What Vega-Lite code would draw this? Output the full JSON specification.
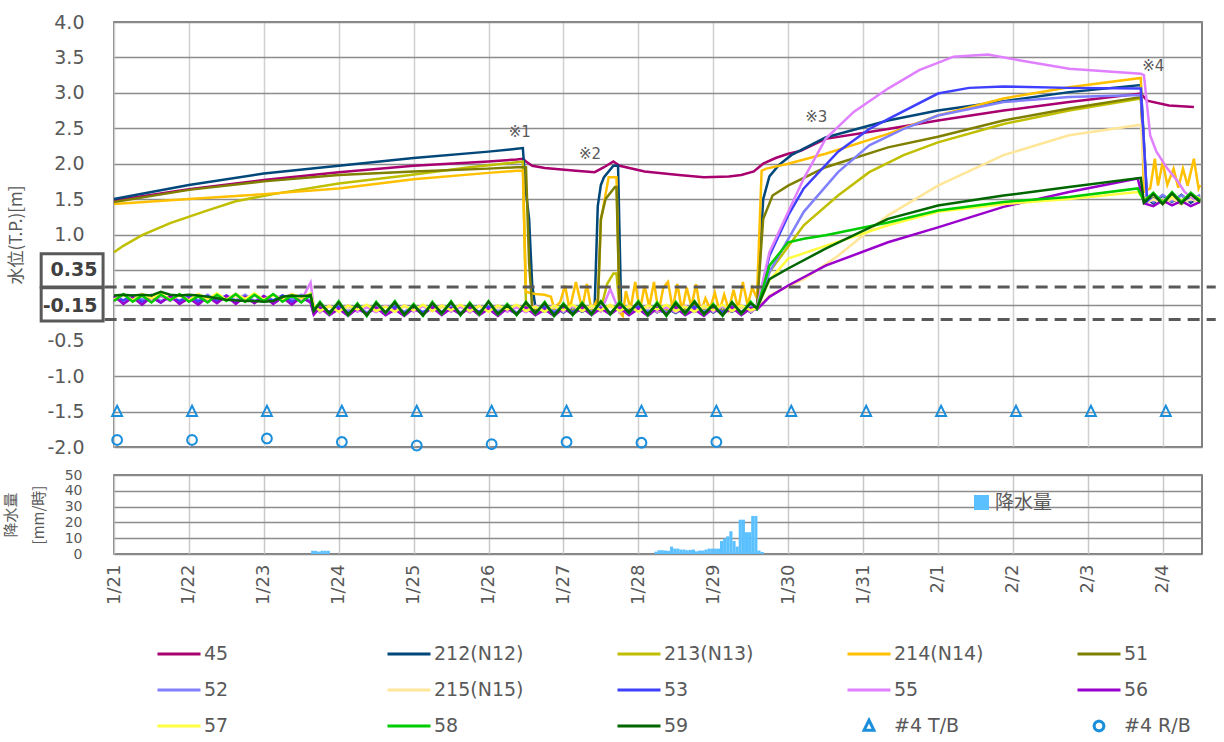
{
"$schema":"https://vega.github.io/schema/vega-lite/v6.json",
"background":"white",
"padding":{"left":2,"top":12,"right":2,"bottom":0},
"bounds":"flush",
"spacing":28,
"config":{"font":"DejaVu Sans","view":{"stroke":"#595959","strokeWidth":1.5},"axis":{"labelColor":"#595959","titleColor":"#595959","labelFont":"DejaVu Sans","labelOverlap":false,"labelSeparation":0}},
"resolve":{"scale":{"color":"independent","shape":"independent"},"legend":{"color":"independent","shape":"independent"}},
"datasets":{
"nm":[{"k":"a","n":"45"},{"k":"b","n":"212(N12)"},{"k":"c","n":"213(N13)"},{"k":"d","n":"214(N14)"},{"k":"e","n":"51"},{"k":"f","n":"52"},{"k":"g","n":"215(N15)"},{"k":"h","n":"53"},{"k":"i","n":"55"},{"k":"j","n":"56"},{"k":"k","n":"57"},{"k":"l","n":"58"},{"k":"m","n":"59"}],
"lv":[
{"t":"2021-01-21 00:00","a":1.48,"b":1.5,"c":0.75,"d":1.43,"e":1.46,"f":0.13,"g":0.09,"h":0.13,"i":0.06,"j":0.13,"k":0.08,"l":0.06,"m":0.14},
{"t":"2021-01-21 03:00","c":0.84,"f":0.05,"g":0.15,"h":0.07,"i":0.15,"j":0.02,"k":0.15,"l":0.16,"m":0.15},
{"t":"2021-01-21 06:00","f":0.14,"g":0.08,"h":0.14,"i":0.09,"j":0.11,"k":0.07,"l":0.05,"m":0.14},
{"t":"2021-01-21 09:00","c":0.99,"f":0.08,"g":0.13,"h":0.05,"i":0.16,"j":0.01,"k":0.16,"l":0.14,"m":0.15},
{"t":"2021-01-21 12:00","f":0.15,"g":0.07,"h":0.11,"i":0.07,"j":0.12,"k":0.1,"l":0.04,"m":0.14},
{"t":"2021-01-21 15:00","f":0.06,"g":0.14,"h":0.04,"i":0.13,"j":0.04,"k":0.17,"l":0.15,"m":0.19},
{"t":"2021-01-21 18:00","c":1.16,"f":0.12,"g":0.09,"h":0.13,"i":0.06,"j":0.13,"k":0.08,"l":0.07,"m":0.15},
{"t":"2021-01-21 21:00","f":0.05,"g":0.15,"h":0.06,"i":0.15,"j":0.02,"k":0.14,"l":0.16,"m":0.14},
{"t":"2021-01-22 00:00","a":1.64,"b":1.7,"d":1.5,"e":1.63,"f":0.14,"g":0.08,"h":0.14,"i":0.08,"j":0.1,"k":0.07,"l":0.05,"m":0.15},
{"t":"2021-01-22 03:00","f":0.07,"g":0.14,"h":0.05,"i":0.16,"j":0.01,"k":0.16,"l":0.13,"m":0.14},
{"t":"2021-01-22 06:00","c":1.34,"f":0.15,"g":0.09,"h":0.13,"i":0.07,"j":0.12,"k":0.09,"l":0.04,"m":0.12},
{"t":"2021-01-22 09:00","f":0.06,"g":0.15,"h":0.06,"i":0.15,"j":0.03,"k":0.17,"l":0.15,"m":0.1},
{"t":"2021-01-22 12:00","f":0.14,"g":0.08,"h":0.14,"i":0.08,"j":0.13,"k":0.08,"l":0.06,"m":0.08},
{"t":"2021-01-22 15:00","c":1.47,"f":0.07,"g":0.13,"h":0.05,"i":0.16,"j":0.02,"k":0.16,"l":0.16,"m":0.07},
{"t":"2021-01-22 18:00","f":0.15,"g":0.07,"h":0.12,"i":0.07,"j":0.12,"k":0.09,"l":0.05,"m":0.06},
{"t":"2021-01-22 21:00","f":0.06,"g":0.14,"h":0.04,"i":0.14,"j":0.03,"k":0.17,"l":0.15,"m":0.06},
{"t":"2021-01-23 00:00","a":1.77,"b":1.86,"d":1.57,"e":1.75,"f":0.13,"g":0.09,"h":0.13,"i":0.06,"j":0.13,"k":0.08,"l":0.06,"m":0.05},
{"t":"2021-01-23 03:00","c":1.57,"f":0.05,"g":0.15,"h":0.07,"i":0.15,"j":0.02,"k":0.15,"l":0.16,"m":0.06},
{"t":"2021-01-23 06:00","f":0.14,"g":0.08,"h":0.14,"i":0.09,"j":0.11,"k":0.07,"l":0.05,"m":0.12},
{"t":"2021-01-23 09:00","f":0.08,"g":0.13,"h":0.05,"i":0.16,"j":0.01,"k":0.16,"l":0.14,"m":0.14},
{"t":"2021-01-23 12:00","f":0.15,"g":0.07,"h":0.11,"i":0.07,"j":0.12,"k":0.1,"l":0.04,"m":0.13},
{"t":"2021-01-23 15:00","f":0.06,"g":0.14,"h":0.04,"i":0.32,"j":0.04,"k":0.17,"l":0.15,"m":0.14},
{"t":"2021-01-23 16:00","f":-0.1,"g":-0.02,"h":-0.11,"i":-0.02,"j":-0.13,"k":0,"l":-0.07,"m":-0.08},
{"t":"2021-01-23 18:00","f":-0.03,"g":-0.07,"h":-0.03,"i":-0.1,"j":-0.03,"k":-0.08,"l":0.05,"m":0.03},
{"t":"2021-01-23 21:00","f":-0.11,"g":-0.01,"h":-0.09,"i":-0.01,"j":-0.14,"k":-0.01,"l":-0.12,"m":-0.11},
{"t":"2021-01-24 00:00","a":1.88,"b":1.97,"c":1.72,"d":1.65,"e":1.84,"f":-0.02,"g":-0.08,"h":-0.02,"i":-0.07,"j":-0.05,"k":-0.09,"l":0.06,"m":0.04},
{"t":"2021-01-24 03:00","f":-0.08,"g":-0.03,"h":-0.11,"i":0,"j":-0.15,"k":0,"l":-0.14,"m":-0.13},
{"t":"2021-01-24 06:00","f":-0.01,"g":-0.09,"h":-0.05,"i":-0.09,"j":-0.04,"k":-0.06,"l":0.03,"m":0.01},
{"t":"2021-01-24 09:00","f":-0.1,"g":-0.02,"h":-0.12,"i":-0.03,"j":-0.12,"k":0.01,"l":-0.15,"m":-0.14},
{"t":"2021-01-24 12:00","f":-0.04,"g":-0.07,"h":-0.03,"i":-0.1,"j":-0.03,"k":-0.08,"l":0.05,"m":0.03},
{"t":"2021-01-24 15:00","f":-0.11,"g":-0.01,"h":-0.1,"i":-0.01,"j":-0.14,"k":-0.02,"l":-0.11,"m":-0.1},
{"t":"2021-01-24 18:00","f":-0.02,"g":-0.08,"h":-0.02,"i":-0.08,"j":-0.06,"k":-0.09,"l":0.06,"m":0.04},
{"t":"2021-01-24 21:00","c":1.83,"f":-0.09,"g":-0.02,"h":-0.11,"i":0,"j":-0.15,"k":0,"l":-0.14,"m":-0.13},
{"t":"2021-01-25 00:00","a":1.97,"b":2.08,"d":1.78,"e":1.89,"f":-0.01,"g":-0.07,"h":-0.03,"i":-0.09,"j":-0.04,"k":-0.07,"l":0.02,"m":0},
{"t":"2021-01-25 03:00","f":-0.1,"g":-0.01,"h":-0.1,"i":-0.01,"j":-0.13,"k":0.01,"l":-0.15,"m":-0.14},
{"t":"2021-01-25 06:00","f":-0.02,"g":-0.08,"h":-0.02,"i":-0.08,"j":-0.03,"k":-0.08,"l":0.05,"m":0.03},
{"t":"2021-01-25 09:00","f":-0.09,"g":-0.03,"h":-0.11,"i":0,"j":-0.14,"k":0,"l":-0.12,"m":-0.11},
{"t":"2021-01-25 12:00","f":-0.01,"g":-0.09,"h":-0.04,"i":-0.09,"j":-0.04,"k":-0.07,"l":0.06,"m":0.04},
{"t":"2021-01-25 15:00","f":-0.1,"g":-0.02,"h":-0.12,"i":-0.02,"j":-0.13,"k":0.01,"l":-0.14,"m":-0.13},
{"t":"2021-01-25 18:00","c":1.95,"f":-0.03,"g":-0.07,"h":-0.03,"i":-0.1,"j":-0.03,"k":-0.08,"l":0.04,"m":0.02},
{"t":"2021-01-25 21:00","f":-0.11,"g":-0.01,"h":-0.09,"i":-0.01,"j":-0.14,"k":-0.01,"l":-0.13,"m":-0.12},
{"t":"2021-01-26 00:00","a":2.03,"b":2.17,"d":1.87,"e":1.93,"f":-0.02,"g":-0.08,"h":-0.02,"i":-0.07,"j":-0.05,"k":-0.09,"l":0.06,"m":0.05},
{"t":"2021-01-26 03:00","f":-0.08,"g":-0.03,"h":-0.11,"i":0,"j":-0.15,"k":0,"l":-0.13,"m":-0.12},
{"t":"2021-01-26 06:00","f":-0.01,"g":-0.09,"h":-0.05,"i":-0.09,"j":-0.04,"k":-0.06,"l":0.02,"m":0},
{"t":"2021-01-26 09:00","a":2.06,"b":2.21,"c":2.02,"d":1.9,"e":1.95,"f":-0.1,"g":-0.02,"h":-0.12,"i":-0.03,"j":-0.12,"k":0.01,"l":-0.14,"m":-0.13},
{"t":"2021-01-26 11:00","a":2.07,"b":2.22,"c":2.03,"d":1.9,"e":1.95},
{"t":"2021-01-26 12:00","a":2.03,"b":1.6,"c":0,"d":0.19,"e":1.95,"f":-0.04,"g":-0.07,"h":-0.03,"i":-0.1,"j":-0.03,"k":-0.08,"l":0.05,"m":0.04},
{"t":"2021-01-26 13:00","b":1.22,"e":0.6},
{"t":"2021-01-26 14:00","a":1.97,"b":0.28,"e":-0.04},
{"t":"2021-01-26 15:00","b":-0.02,"c":-0.08,"d":0.16,"e":-0.08,"f":-0.11,"g":-0.01,"h":-0.1,"i":-0.01,"j":-0.14,"k":-0.02,"l":-0.12,"m":-0.11},
{"t":"2021-01-26 18:00","a":1.94,"b":-0.09,"c":-0.02,"d":0.15,"e":0,"f":-0.02,"g":-0.08,"h":-0.02,"i":-0.08,"j":-0.06,"k":-0.09,"l":0.05,"m":0.03},
{"t":"2021-01-26 20:00","d":0.12},
{"t":"2021-01-26 21:00","b":-0.01,"c":-0.07,"d":-0.04,"e":-0.09,"f":-0.09,"g":-0.02,"h":-0.11,"i":0,"j":-0.15,"k":0,"l":-0.15,"m":-0.14},
{"t":"2021-01-26 23:00","d":0.05},
{"t":"2021-01-27 00:00","b":-0.1,"c":-0.01,"e":-0.01,"f":-0.01,"g":-0.07,"h":-0.03,"i":-0.09,"j":-0.04,"k":-0.07,"l":0.03,"m":0.01},
{"t":"2021-01-27 00:30","d":0.28},
{"t":"2021-01-27 02:00","d":-0.06},
{"t":"2021-01-27 03:00","b":-0.02,"c":-0.08,"e":-0.08,"f":-0.1,"g":-0.01,"h":-0.1,"i":-0.01,"j":-0.13,"k":0.01,"l":-0.14,"m":-0.13},
{"t":"2021-01-27 04:00","a":1.9,"d":0.33},
{"t":"2021-01-27 06:00","b":-0.09,"c":-0.03,"d":-0.05,"e":0,"f":-0.02,"g":-0.08,"h":-0.02,"i":-0.08,"j":-0.03,"k":-0.08,"l":0.04,"m":0.02},
{"t":"2021-01-27 07:30","d":0.3},
{"t":"2021-01-27 09:00","b":-0.01,"c":-0.09,"d":-0.08,"e":-0.09,"f":-0.09,"g":-0.03,"h":-0.11,"i":0,"j":-0.14,"k":0,"l":-0.13,"m":-0.12},
{"t":"2021-01-27 10:00","a":1.88,"b":-0.03,"e":-0.05},
{"t":"2021-01-27 10:30","d":0.05},
{"t":"2021-01-27 11:00","b":1.4,"d":-0.02,"e":0},
{"t":"2021-01-27 12:00","b":1.7,"c":-0.05,"d":1.2,"e":1.22,"f":-0.01,"g":-0.09,"h":-0.04,"i":-0.09,"j":-0.04,"k":-0.07,"l":0.06,"m":0.05},
{"t":"2021-01-27 13:00","a":1.95,"b":1.81},
{"t":"2021-01-27 13:30","e":1.5},
{"t":"2021-01-27 14:00","c":0.3},
{"t":"2021-01-27 14:30","d":1.81},
{"t":"2021-01-27 15:00","f":-0.1,"g":-0.02,"h":-0.12,"i":0.23,"j":-0.13,"k":0.01,"l":-0.13,"m":-0.12},
{"t":"2021-01-27 16:00","a":2.03,"b":1.97,"c":0.45},
{"t":"2021-01-27 16:30","e":1.67},
{"t":"2021-01-27 17:00","c":0.45,"d":1.81,"e":1.67},
{"t":"2021-01-27 17:30","b":1.97},
{"t":"2021-01-27 18:00","a":1.97,"c":-0.05,"d":-0.1,"e":-0.05,"f":-0.03,"g":-0.07,"h":-0.03,"i":-0.1,"j":-0.03,"k":-0.08,"l":0.05,"m":0.03},
{"t":"2021-01-27 18:30","b":-0.05},
{"t":"2021-01-27 19:00","d":-0.15},
{"t":"2021-01-27 20:00","d":0.2},
{"t":"2021-01-27 21:00","b":-0.02,"c":-0.08,"e":-0.07,"f":-0.11,"g":-0.01,"h":-0.09,"i":-0.01,"j":-0.14,"k":-0.01,"l":-0.11,"m":-0.1},
{"t":"2021-01-27 21:30","d":-0.05},
{"t":"2021-01-27 23:00","d":0.33},
{"t":"2021-01-28 00:00","b":-0.08,"c":-0.03,"e":0,"f":-0.02,"g":-0.08,"h":-0.02,"i":-0.07,"j":-0.05,"k":-0.09,"l":0.06,"m":0.04},
{"t":"2021-01-28 00:30","d":-0.08},
{"t":"2021-01-28 02:00","a":1.89,"d":0.28},
{"t":"2021-01-28 03:00","b":-0.01,"c":-0.09,"e":-0.09,"f":-0.08,"g":-0.03,"h":-0.11,"i":0,"j":-0.15,"k":0,"l":-0.14,"m":-0.13},
{"t":"2021-01-28 03:30","d":-0.02},
{"t":"2021-01-28 05:00","d":0.33},
{"t":"2021-01-28 06:00","b":-0.1,"c":-0.02,"e":-0.03,"f":-0.01,"g":-0.09,"h":-0.05,"i":-0.09,"j":-0.04,"k":-0.06,"l":0.04,"m":0.02},
{"t":"2021-01-28 06:30","d":-0.1},
{"t":"2021-01-28 08:00","d":0.25},
{"t":"2021-01-28 09:00","b":-0.04,"c":-0.07,"e":-0.1,"f":-0.1,"g":-0.02,"h":-0.12,"i":-0.03,"j":-0.12,"k":0.01,"l":-0.15,"m":-0.14},
{"t":"2021-01-28 09:30","d":0.33},
{"t":"2021-01-28 11:00","d":-0.05},
{"t":"2021-01-28 12:00","b":-0.11,"c":-0.01,"e":-0.01,"f":-0.04,"g":-0.07,"h":-0.03,"i":-0.1,"j":-0.03,"k":-0.08,"l":0.05,"m":0.03},
{"t":"2021-01-28 12:30","d":0.3},
{"t":"2021-01-28 13:00","a":1.84},
{"t":"2021-01-28 14:00","d":-0.08},
{"t":"2021-01-28 15:00","b":-0.02,"c":-0.08,"e":-0.08,"f":-0.11,"g":-0.01,"h":-0.1,"i":-0.01,"j":-0.14,"k":-0.02,"l":-0.12,"m":-0.11},
{"t":"2021-01-28 15:30","d":0.25},
{"t":"2021-01-28 17:00","d":-0.02},
{"t":"2021-01-28 18:00","b":-0.09,"c":-0.02,"e":0,"f":-0.02,"g":-0.08,"h":-0.02,"i":-0.08,"j":-0.06,"k":-0.09,"l":0.06,"m":0.05},
{"t":"2021-01-28 18:30","d":0.3},
{"t":"2021-01-28 20:00","d":-0.1},
{"t":"2021-01-28 21:00","a":1.81,"b":-0.01,"c":-0.07,"e":-0.09,"f":-0.09,"g":-0.02,"h":-0.11,"i":0,"j":-0.15,"k":0,"l":-0.13,"m":-0.12},
{"t":"2021-01-28 21:30","d":0.1},
{"t":"2021-01-28 23:00","d":-0.05},
{"t":"2021-01-29 00:00","b":-0.1,"c":-0.01,"e":-0.01,"f":-0.01,"g":-0.07,"h":-0.03,"i":-0.09,"j":-0.04,"k":-0.07,"l":0.02,"m":0},
{"t":"2021-01-29 00:30","d":0.18},
{"t":"2021-01-29 02:00","d":-0.08},
{"t":"2021-01-29 03:00","b":-0.02,"c":-0.08,"e":-0.08,"f":-0.1,"g":-0.01,"h":-0.1,"i":-0.01,"j":-0.13,"k":0.01,"l":-0.15,"m":-0.14},
{"t":"2021-01-29 03:30","d":0.15},
{"t":"2021-01-29 05:00","a":1.82,"d":-0.06},
{"t":"2021-01-29 06:00","b":-0.09,"c":-0.03,"e":0,"f":-0.02,"g":-0.08,"h":-0.02,"i":-0.08,"j":-0.03,"k":-0.08,"l":0.05,"m":0.04},
{"t":"2021-01-29 06:30","d":0.22},
{"t":"2021-01-29 08:00","d":-0.05},
{"t":"2021-01-29 09:00","a":1.84,"b":-0.01,"c":-0.09,"e":-0.09,"f":-0.09,"g":-0.03,"h":-0.11,"i":0,"j":-0.14,"k":0,"l":-0.12,"m":-0.11},
{"t":"2021-01-29 09:30","d":0.33},
{"t":"2021-01-29 11:00","d":0},
{"t":"2021-01-29 12:00","b":-0.1,"c":-0.02,"e":-0.02,"f":-0.01,"g":-0.09,"h":-0.04,"i":-0.09,"j":-0.04,"k":-0.07,"l":0.05,"m":0.03},
{"t":"2021-01-29 12:30","d":0.25},
{"t":"2021-01-29 13:00","a":1.89},
{"t":"2021-01-29 14:00","b":-0.03,"c":-0.04,"d":0.1,"e":-0.03,"f":-0.04,"g":-0.04,"h":-0.04,"i":-0.03,"j":-0.06,"k":-0.04,"l":-0.05,"m":-0.04},
{"t":"2021-01-29 15:30","d":1.9},
{"t":"2021-01-29 16:00","a":2.0,"b":1.5,"e":1.22},
{"t":"2021-01-29 17:00","d":1.93},
{"t":"2021-01-29 18:00","b":1.82,"c":0.47,"f":0.47,"g":0.14,"h":0.7,"i":0.75,"j":0.12,"k":0.35,"l":0.56,"m":0.37},
{"t":"2021-01-29 19:00","e":1.55},
{"t":"2021-01-29 20:00","a":2.08},
{"t":"2021-01-29 21:00","b":1.98},
{"t":"2021-01-30 00:00","a":2.14,"d":2.0,"e":1.69,"h":1.27,"j":0.28,"k":0.66,"l":0.89,"m":0.52},
{"t":"2021-01-30 01:00","b":2.12},
{"t":"2021-01-30 04:00","a":2.18},
{"t":"2021-01-30 05:00","c":1.13,"f":1.32,"g":0.37,"h":1.65,"i":1.79,"l":0.94},
{"t":"2021-01-30 12:00","a":2.35,"b":2.37,"d":2.14,"e":1.95,"i":2.35,"j":0.56,"k":0.84,"l":0.99,"m":0.8},
{"t":"2021-01-30 16:00","c":1.55,"f":1.88,"g":0.7,"h":2.17},
{"t":"2021-01-30 21:00","i":2.73},
{"t":"2021-01-31 02:00","c":1.88,"f":2.26,"h":2.49},
{"t":"2021-01-31 08:00","a":2.49,"b":2.61,"d":2.42,"e":2.23,"g":1.27,"h":2.63,"i":3.06,"j":0.89,"k":1.13,"l":1.17,"m":1.22},
{"t":"2021-01-31 13:00","c":2.12,"f":2.49},
{"t":"2021-01-31 18:00","i":3.32},
{"t":"2021-02-01 00:00","a":2.61,"b":2.75,"c":2.3,"d":2.68,"e":2.38,"f":2.68,"g":1.69,"h":2.99,"j":1.1,"k":1.32,"l":1.34,"m":1.41},
{"t":"2021-02-01 05:00","i":3.51},
{"t":"2021-02-01 10:00","h":3.07},
{"t":"2021-02-01 16:00","i":3.54},
{"t":"2021-02-01 21:00","a":2.75,"b":2.88,"c":2.56,"d":2.92,"e":2.61,"f":2.87,"g":2.12,"h":3.09,"j":1.39,"k":1.43,"l":1.46,"m":1.55},
{"t":"2021-02-02 02:00","i":3.46},
{"t":"2021-02-02 18:00","a":2.87,"b":3.01,"c":2.75,"d":3.08,"e":2.78,"f":2.94,"g":2.4,"h":3.07,"i":3.34,"j":1.6,"k":1.5,"l":1.53,"m":1.67},
{"t":"2021-02-03 16:00","j":1.79,"k":1.6,"l":1.65},
{"t":"2021-02-03 17:00","a":2.99,"b":3.11,"c":2.92,"d":3.21,"e":2.94,"f":2.97,"g":2.55,"h":3.06,"i":3.27,"m":1.8},
{"t":"2021-02-03 18:00","d":1.6,"i":3.25,"j":1.44,"k":1.5,"l":1.47,"m":1.45},
{"t":"2021-02-03 19:00","a":2.89,"b":1.5,"c":1.48,"e":1.46,"f":1.52,"g":1.45,"h":1.47},
{"t":"2021-02-03 20:00","d":1.65,"i":2.4},
{"t":"2021-02-03 21:00","b":1.44,"c":1.55,"e":1.52,"f":1.46,"g":1.5,"h":1.55,"j":1.4,"k":1.55,"l":1.59,"m":1.57},
{"t":"2021-02-03 21:30","d":2.07},
{"t":"2021-02-03 22:00","i":2.17},
{"t":"2021-02-03 22:30","d":1.69},
{"t":"2021-02-04 00:00","b":1.55,"c":1.46,"d":2.02,"e":1.44,"f":1.56,"g":1.43,"h":1.45,"j":1.48,"k":1.47,"l":1.45,"m":1.43},
{"t":"2021-02-04 01:30","d":1.7,"i":1.93},
{"t":"2021-02-04 02:00","a":2.82},
{"t":"2021-02-04 03:00","b":1.46,"c":1.54,"e":1.5,"f":1.47,"g":1.51,"h":1.56,"j":1.41,"k":1.54,"l":1.6,"m":1.58},
{"t":"2021-02-04 03:30","d":1.93},
{"t":"2021-02-04 05:00","d":1.66,"i":1.74},
{"t":"2021-02-04 06:00","b":1.56,"c":1.47,"e":1.43,"f":1.55,"g":1.44,"h":1.46,"j":1.47,"k":1.48,"l":1.46,"m":1.44},
{"t":"2021-02-04 06:30","d":1.93},
{"t":"2021-02-04 07:00","i":1.6},
{"t":"2021-02-04 08:00","d":1.69},
{"t":"2021-02-04 09:00","b":1.45,"c":1.56,"e":1.52,"f":1.48,"g":1.5,"h":1.54,"j":1.4,"k":1.56,"l":1.59,"m":1.57},
{"t":"2021-02-04 10:00","a":2.8,"d":2.07,"i":1.5},
{"t":"2021-02-04 11:30","d":1.65},
{"t":"2021-02-04 12:00","b":1.53,"c":1.5,"d":1.7,"e":1.47,"f":1.56,"g":1.45,"h":1.48,"i":1.52,"j":1.46,"k":1.51,"l":1.48,"m":1.46}
],
"wl":[
{"t":"2021-01-21 01:00","n":"#4 T/B","v":-1.5},{"t":"2021-01-22 01:00","n":"#4 T/B","v":-1.5},{"t":"2021-01-23 01:00","n":"#4 T/B","v":-1.5},{"t":"2021-01-24 01:00","n":"#4 T/B","v":-1.5},{"t":"2021-01-25 01:00","n":"#4 T/B","v":-1.5},{"t":"2021-01-26 01:00","n":"#4 T/B","v":-1.5},{"t":"2021-01-27 01:00","n":"#4 T/B","v":-1.5},{"t":"2021-01-28 01:00","n":"#4 T/B","v":-1.5},{"t":"2021-01-29 01:00","n":"#4 T/B","v":-1.5},{"t":"2021-01-30 01:00","n":"#4 T/B","v":-1.5},{"t":"2021-01-31 01:00","n":"#4 T/B","v":-1.5},{"t":"2021-02-01 01:00","n":"#4 T/B","v":-1.5},{"t":"2021-02-02 01:00","n":"#4 T/B","v":-1.5},{"t":"2021-02-03 01:00","n":"#4 T/B","v":-1.5},{"t":"2021-02-04 01:00","n":"#4 T/B","v":-1.5},
{"t":"2021-01-21 01:00","n":"#4 R/B","v":-1.9},{"t":"2021-01-22 01:00","n":"#4 R/B","v":-1.9},{"t":"2021-01-23 01:00","n":"#4 R/B","v":-1.88},{"t":"2021-01-24 01:00","n":"#4 R/B","v":-1.93},{"t":"2021-01-25 01:00","n":"#4 R/B","v":-1.98},{"t":"2021-01-26 01:00","n":"#4 R/B","v":-1.96},{"t":"2021-01-27 01:00","n":"#4 R/B","v":-1.93},{"t":"2021-01-28 01:00","n":"#4 R/B","v":-1.94},{"t":"2021-01-29 01:00","n":"#4 R/B","v":-1.93}
],
"rain":[
{"t":"2021-01-23 15:00","r":2},{"t":"2021-01-23 16:00","r":2},{"t":"2021-01-23 17:00","r":1.5},{"t":"2021-01-23 18:00","r":2},{"t":"2021-01-23 19:00","r":2},{"t":"2021-01-23 20:00","r":2},
{"t":"2021-01-28 05:00","r":1.5},{"t":"2021-01-28 06:00","r":2.4},{"t":"2021-01-28 07:00","r":2.4},{"t":"2021-01-28 08:00","r":2.2},{"t":"2021-01-28 09:00","r":2.0},{"t":"2021-01-28 10:00","r":4.7},{"t":"2021-01-28 11:00","r":3.4},{"t":"2021-01-28 12:00","r":3.4},{"t":"2021-01-28 13:00","r":2.8},{"t":"2021-01-28 14:00","r":2.8},{"t":"2021-01-28 15:00","r":2.4},{"t":"2021-01-28 16:00","r":2.6},{"t":"2021-01-28 17:00","r":2.8},{"t":"2021-01-28 18:00","r":1.7},{"t":"2021-01-28 19:00","r":2.2},{"t":"2021-01-28 20:00","r":2.2},{"t":"2021-01-28 21:00","r":2.8},{"t":"2021-01-28 22:00","r":3.4},{"t":"2021-01-28 23:00","r":3.4},
{"t":"2021-01-29 00:00","r":3.4},{"t":"2021-01-29 01:00","r":3.4},{"t":"2021-01-29 02:00","r":8.2},{"t":"2021-01-29 03:00","r":9.8},{"t":"2021-01-29 04:00","r":11.2},{"t":"2021-01-29 05:00","r":14.4},{"t":"2021-01-29 06:00","r":8.2},{"t":"2021-01-29 07:00","r":4.7},{"t":"2021-01-29 08:00","r":21.7},{"t":"2021-01-29 09:00","r":21.7},{"t":"2021-01-29 10:00","r":13.8},{"t":"2021-01-29 11:00","r":13.8},{"t":"2021-01-29 12:00","r":24.1},{"t":"2021-01-29 13:00","r":24.1},{"t":"2021-01-29 14:00","r":2.2},{"t":"2021-01-29 15:00","r":1.3}
]
},
"vconcat":[
{
"width":1088,"height":425,
"layer":[
{
"data":{"name":"lv"},
"transform":[
{"fold":["a","b","c","d","e","f","g","h","i","j","k","l","m"],"as":["key","val"]},
{"filter":"isValid(datum.val)"},
{"lookup":"key","from":{"data":{"name":"nm"},"key":"k","fields":["n"]}}
],
"mark":{"type":"line","strokeWidth":2.5},
"encoding":{
"x":{"field":"t","type":"temporal","scale":{"domain":[{"year":2021,"month":1,"date":21,"hours":0},{"year":2021,"month":2,"date":4,"hours":12,"minutes":36}]},
"axis":{"labels":false,"ticks":false,"domain":false,"title":null,"grid":true,"gridColor":"#d0d0d0","gridWidth":1.5,"tickCount":{"interval":"day","step":1}}},
"y":{"field":"val","type":"quantitative","scale":{"domain":[-2,4],"nice":false,"zero":false},
"axis":{"values":[-2,-1.5,-1,-0.5,0,0.5,1,1.5,2,2.5,3,3.5,4],"tickCount":20,
"labelExpr":"datum.value == 0.5 ? '0.35' : datum.value == 0 ? '-0.15' : (datum.value < 0 ? '-' : '') + format(abs(datum.value), '.1f')",
"labelFontSize":19,"labelOverlap":false,"labelSeparation":0,
"labelFontWeight":{"condition":{"test":"datum.value == 0.5 || datum.value == 0","value":"bold"},"value":"normal"},
"labelColor":{"condition":{"test":"datum.value == 0.5 || datum.value == 0","value":"#404040"},"value":"#595959"},
"labelPadding":{"condition":{"test":"datum.value == 0.5 || datum.value == 0","value":17},"value":30},
"ticks":false,"domain":false,"grid":true,"gridColor":"#8c8c8c","gridWidth":1.3,
"gridOpacity":{"condition":{"test":"datum.value == -0.5","value":0},"value":1},
"title":"水位(T.P.)[m]","titleFont":"Noto Sans CJK JP","titleFontSize":17,"titleFontWeight":"normal","titleColor":"#595959","titlePadding":17}},
"color":{"field":"n","type":"nominal",
"scale":{"domain":["45","212(N12)","213(N13)","214(N14)","51","52","215(N15)","53","55","56","57","58","59","#4 T/B","#4 R/B"],
"range":["#A9006F","#00477A","#BFBF00","#FFC000","#808000","#8080FF","#FFE699","#3F3FFF","#E07FFF","#9900CC","#FFFF3F","#00CC00","#006600","#1C8FDC","#1C8FDC"]},
"legend":{"title":null,"orient":"none","legendX":42,"legendY":617,"direction":"horizontal","columns":5,"gridAlign":"all","symbolSize":1849,"symbolStrokeWidth":3,"clipHeight":30,"rowPadding":6,"columnPadding":92,"padding":0,"labelFont":"DejaVu Sans","labelFontSize":19,"labelColor":"#595959","labelOffset":2,"labelLimit":300,
"encode":{"symbols":{"update":{"fill":{"value":"transparent"}}}}}}
}
},
{
"data":{"name":"wl"},
"mark":{"type":"point","filled":false,"strokeWidth":2,"size":1849,"opacity":1},
"encoding":{
"x":{"field":"t","type":"temporal"},
"y":{"field":"v","type":"quantitative"},
"color":{"field":"n","type":"nominal",
"legend":{"title":null,"orient":"none","legendX":42,"legendY":617,"direction":"horizontal","columns":5,"gridAlign":"all","symbolSize":1849,"symbolStrokeWidth":3,"clipHeight":30,"rowPadding":6,"columnPadding":92,"padding":0,"labelFont":"DejaVu Sans","labelFontSize":19,"labelColor":"#595959","labelOffset":2,"labelLimit":300,
"encode":{"symbols":{"update":{"fill":{"value":"transparent"}}}}}},
"shape":{"field":"n","type":"nominal",
"scale":{"domain":["45","212(N12)","213(N13)","214(N14)","51","52","215(N15)","53","55","56","57","58","59","#4 T/B","#4 R/B"],
"range":["M-1,0L1,0","M-1,0L1,0","M-1,0L1,0","M-1,0L1,0","M-1,0L1,0","M-1,0L1,0","M-1,0L1,0","M-1,0L1,0","M-1,0L1,0","M-1,0L1,0","M-1,0L1,0","M-1,0L1,0","M-1,0L1,0","M0,-0.27L0.23,0.2L-0.23,0.2Z","M0.23,0L0.199,0.115L0.115,0.199L0,0.23L-0.115,0.199L-0.199,0.115L-0.23,0L-0.199,-0.115L-0.115,-0.199L0,-0.23L0.115,-0.199L0.199,-0.115Z"]},
"legend":{"title":null,"orient":"none","legendX":42,"legendY":617,"direction":"horizontal","columns":5,"gridAlign":"all","symbolSize":1849,"symbolStrokeWidth":3,"clipHeight":30,"rowPadding":6,"columnPadding":92,"padding":0,"labelFont":"DejaVu Sans","labelFontSize":19,"labelColor":"#595959","labelOffset":2,"labelLimit":300,
"encode":{"symbols":{"update":{"fill":{"value":"transparent"}}}}}}
}
},
{
"data":{"values":[{"lv":0.26},{"lv":-0.2}]},
"mark":{"type":"rule","strokeDash":[12,7],"strokeWidth":3,"color":"#595959","clip":false},
"encoding":{"y":{"field":"lv","type":"quantitative"},"x":{"datum":{"year":2021,"month":1,"date":20,"hours":21}},"x2":{"datum":{"year":2021,"month":2,"date":4,"hours":17}}}
},
{
"data":{"values":[{"lo":0.26,"hi":0.73},{"lo":-0.22,"hi":0.25}]},
"mark":{"type":"rect","fill":"white","fillOpacity":0,"stroke":"#595959","strokeWidth":3,"clip":false},
"encoding":{"y":{"field":"lo","type":"quantitative"},"y2":{"field":"hi"},"x":{"datum":{"year":2021,"month":1,"date":20,"hours":0,"minutes":40}},"x2":{"datum":{"year":2021,"month":1,"date":20,"hours":20,"minutes":30}}}
},
{
"data":{"values":[{"t":"2021-01-26 10:00","v":2.45,"s":"※1"},{"t":"2021-01-27 08:30","v":2.13,"s":"※2"},{"t":"2021-01-30 09:00","v":2.66,"s":"※3"},{"t":"2021-02-03 21:00","v":3.38,"s":"※4"}]},
"mark":{"type":"text","fontSize":15,"color":"#595959","font":"DejaVu Sans, Noto Sans CJK JP"},
"encoding":{"x":{"field":"t","type":"temporal"},"y":{"field":"v","type":"quantitative"},"text":{"field":"s"}}
}
]
},
{
"width":1088,"height":79,
"data":{"name":"rain"},
"mark":{"type":"bar","binSpacing":0,"width":{"band":1}},
"encoding":{
"x":{"field":"t","type":"temporal","timeUnit":"yearmonthdatehours","scale":{"domain":[{"year":2021,"month":1,"date":21,"hours":0},{"year":2021,"month":2,"date":4,"hours":12,"minutes":36}]},
"axis":{"format":"%-m/%-d","labelAngle":270,"labelFontSize":18,"labelColor":"#595959","tickCount":{"interval":"day","step":1},"grid":true,"gridColor":"#c8c8c8","gridWidth":1.5,"ticks":false,"domain":false,"labelPadding":10,"title":null,"labelFlush":false,"labelOverlap":false}},
"y":{"field":"r","type":"quantitative","scale":{"domain":[0,50],"nice":false},
"axis":{"values":[0,10,20,30,40,50],"tickCount":10,"labelFontSize":14,"labelOverlap":false,"labelPadding":32,"ticks":false,"domain":false,"grid":true,"gridColor":"#8c8c8c","gridWidth":1.3,"title":["降水量","[mm/時]"],"titleFont":"Noto Sans CJK JP","titleFontSize":15,"titleFontWeight":"normal","titleColor":"#595959","titleLineHeight":28,"titlePadding":18}},
"color":{"datum":"降水量","scale":{"domain":["降水量"],"range":["#5BC0FF"]},
"legend":{"title":null,"orient":"none","legendX":858,"legendY":18,"symbolType":"square","symbolSize":225,"symbolStrokeWidth":0,"labelFont":"Noto Sans CJK JP","labelFontSize":19,"labelColor":"#595959","labelOffset":4,"padding":0}}
}
}
]
}
